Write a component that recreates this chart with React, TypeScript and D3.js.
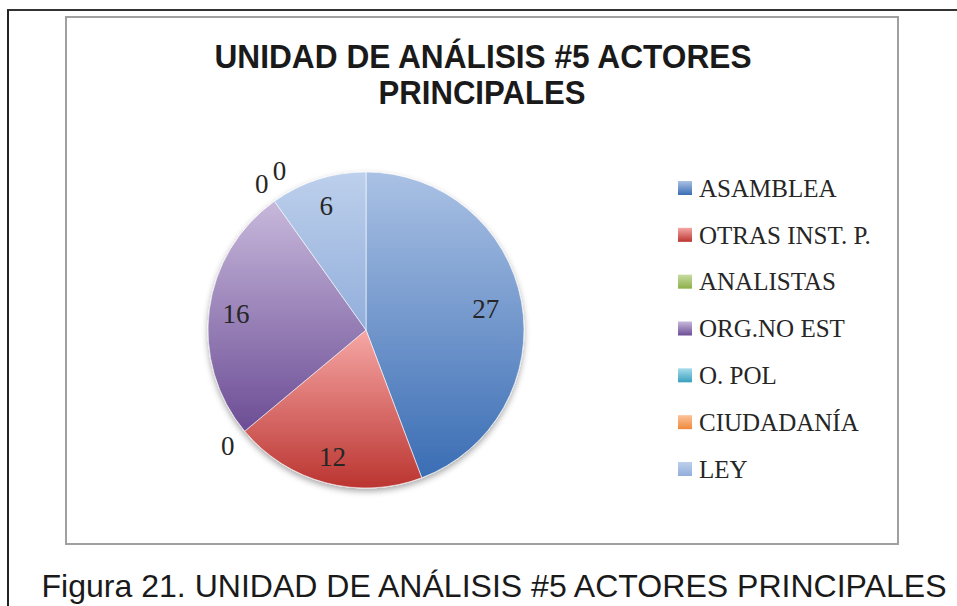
import React from 'react';
import * as d3 from 'd3';

// chart data
const categories = ['ASAMBLEA', 'OTRAS INST. P.', 'ANALISTAS', 'ORG.NO EST', 'O. POL', 'CIUDADANÍA', 'LEY'];
const values = [27, 12, 0, 16, 0, 0, 6];
const titleLines = ['UNIDAD DE ANÁLISIS #5 ACTORES', 'PRINCIPALES'];
const caption = 'Figura 21. UNIDAD DE ANÁLISIS #5 ACTORES PRINCIPALES';

// gradient stops per slice: [top, bottom]
const colors: [string, string][] = [
    ['#aac1e4', '#3a6db4'],
    ['#f6a7a5', '#bb3531'],
    ['#c8dca0', '#8cb04a'],
    ['#c7b8db', '#6c4d95'],
    ['#a6dcec', '#38a0bd'],
    ['#fbc39a', '#f0883a'],
    ['#bdd0ec', '#92aedb'],
];

const W = 957;
const H = 606;

export default function App() {
    const cx = 366;
    const cy = 330;
    const r = 158;

    const pie = d3.pie<number>().sort(null).value(d => d);
    const arcs = pie(values);
    const arc = d3.arc<d3.PieArcDatum<number>>().innerRadius(0).outerRadius(r);
    const total = d3.sum(values);

    // data labels
    let prevOut: [number, number] | null = null;
    const labels = arcs.map((a, i) => {
        const mid = (a.startAngle + a.endAngle) / 2;
        let x: number, y: number;
        if (a.value === 0) {
            const lr = r * 1.14;
            x = Math.sin(mid) * lr;
            y = -Math.cos(mid) * lr;
            if (prevOut && Math.hypot(prevOut[0] - x, prevOut[1] - y) < 15) {
                x += Math.cos(mid) * 22;
                y += Math.sin(mid) * 22;
            }
            prevOut = [x, y];
        } else {
            const lr = r * (a.value / total > 0.4 ? 0.77 : 0.83);
            x = Math.sin(mid) * lr;
            y = -Math.cos(mid) * lr;
        }
        return (
            <text key={'l' + i} x={x} y={y} dy="0.35em" textAnchor="middle"
                  fontFamily="'Liberation Serif', serif" fontSize={27} fill="#262626">
                {values[i]}
            </text>
        );
    });

    const legendX = 678;
    const legendY = d3.scalePoint<string>().domain(categories).range([188, 469]);

    return (
        <svg width={W} height={H} style={{position: 'absolute', left: 0, top: 0, background: '#fff'}}>
            <defs>
                {colors.map((c, i) => (
                    <linearGradient key={i} id={'g' + i} x1="0" y1="0" x2="0" y2="1">
                        <stop offset="0" stopColor={c[0]}/>
                        <stop offset="1" stopColor={c[1]}/>
                    </linearGradient>
                ))}
                <filter id="shadow" x="-20%" y="-20%" width="140%" height="150%">
                    <feDropShadow dx="0" dy="3" stdDeviation="3" floodColor="#000" floodOpacity="0.35"/>
                </filter>
            </defs>

            {/* outer frame */}
            <line x1={7} x2={W} y1={10} y2={10} stroke="#333" strokeWidth={2}/>
            <line x1={8} x2={8} y1={10} y2={H} stroke="#222" strokeWidth={2}/>

            {/* chart area */}
            <rect x={66} y={17} width={832} height={527} fill="#fff" stroke="#a0a0a0" strokeWidth={2}/>

            <g fontFamily="'Liberation Sans', Arial, sans-serif" fontWeight="bold" fontSize={33} fill="#1a1a1a" textAnchor="middle">
                <text x={483} y={68} textLength={537} lengthAdjust="spacingAndGlyphs">{titleLines[0]}</text>
                <text x={482} y={104} textLength={207} lengthAdjust="spacingAndGlyphs">{titleLines[1]}</text>
            </g>

            <g transform={`translate(${cx},${cy})`}>
                <g filter="url(#shadow)">
                    {arcs.map((a, i) => a.value > 0 ? (
                        <path key={i} d={arc(a) || ''} fill={`url(#g${i})`} stroke="#ffffff" strokeOpacity={0.6} strokeWidth={1}/>
                    ) : null)}
                </g>
                {labels}
            </g>

            {/* legend */}
            <g>
                {categories.map((c, i) => (
                    <g key={c} transform={`translate(${legendX},${legendY(c)})`}>
                        <rect x={0} y={-7} width={14} height={14} fill={`url(#g${i})`}/>
                        <text x={21} y={0} dy="0.35em" fontFamily="'Liberation Serif', serif" fontSize={25} fill="#262626">{c}</text>
                    </g>
                ))}
            </g>

            <text x={494} y={597} textAnchor="middle" fontFamily="'Liberation Sans', Arial, sans-serif" fontSize={32}
                  fill="#1a1a1a" textLength={905} lengthAdjust="spacingAndGlyphs">{caption}</text>
        </svg>
    );
}
